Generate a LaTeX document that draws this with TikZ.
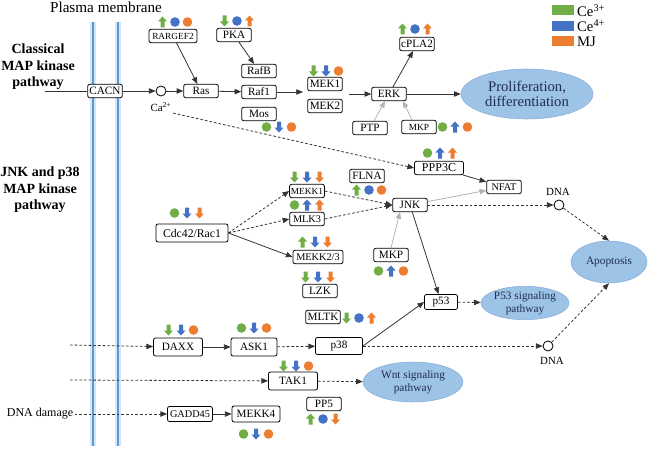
\documentclass[tikz,border=0pt]{standalone}
\usepackage{fontspec}
\setmainfont{Liberation Serif}
\usetikzlibrary{shapes.geometric,positioning,arrows.meta,calc}

\definecolor{cethree}{HTML}{70AD47}
\definecolor{cefour}{HTML}{4472C4}
\definecolor{mj}{HTML}{ED7D31}
\definecolor{membr}{HTML}{5B9BD5}
\definecolor{fatefill}{HTML}{9DC3E6}
\definecolor{fateline}{HTML}{86AEDC}
\definecolor{fatetext}{HTML}{1F2D4F}

% up / down / unchanged marks for one treatment
\tikzset{
  upmark/.pic={\fill[#1] (0,-5.5) -- (4.6,-0.5) -- (2,-0.5) -- (2,5.5) -- (-2,5.5) -- (-2,-0.5) -- (-4.6,-0.5) -- cycle;},
  downmark/.pic={\fill[#1] (0,5.5) -- (4.6,0.5) -- (2,0.5) -- (2,-5.5) -- (-2,-5.5) -- (-2,0.5) -- (-4.6,0.5) -- cycle;},
  dotmark/.pic={\fill[#1] (0,0) circle[radius=4.8];},
}

% three marks (Ce3+, Ce4+, MJ) centred on #1
\newcommand{\effects}[4]{%
  \pic at ($(#1)+(-12.5,0)$) {#2mark=cethree};
  \pic at (#1) {#3mark=cefour};
  \pic at ($(#1)+(12.5,0)$) {#4mark=mj};
}

\begin{document}
\begin{tikzpicture}[
  x=0.75pt, y=-0.75pt,
  prot/.style={rectangle, draw, rounded corners=1.5pt, fill=white, line width=0.6pt, minimum width=26pt, minimum height=10pt, inner sep=1pt, font=\fontsize{8.4}{10}\selectfont},
  small/.style={font=\fontsize{7}{8}\selectfont},
  mid/.style={font=\fontsize{7.7}{9}\selectfont},
  wd/.style={minimum width=0.75pt*#1},
  ht/.style={minimum height=0.75pt*#1},
  fate/.style={ellipse, draw=fateline, fill=fatefill, text=fatetext, align=center, inner sep=0pt, font=\fontsize{8.5}{10}\selectfont},
  port/.style={circle, draw, fill=white, line width=0.6pt, minimum size=7.5pt, inner sep=0pt},
  tag/.style={font=\fontsize{8.2}{9}\selectfont, inner sep=1pt},
  pathway/.style={font=\bfseries\fontsize{10.5}{12.4}\selectfont, align=center},
  keybox/.style={rectangle, minimum width=16.5pt, minimum height=7.5pt, inner sep=0pt},
  link/.style={line width=0.6pt, draw=black!80},
  arrow/.style={-{Triangle[length=5pt,width=4pt]}, line width=0.6pt, draw=black!80},
  dasharrow/.style={arrow, dash pattern=on 2pt off 1.5pt},
  greyarrow/.style={arrow, draw=black!30},
]
\useasboundingbox (0,0) rectangle (649,453);

% === membrane ===
\foreach \mx in {93,118} {
  \draw[line width=4pt, membr!25] (\mx,22) -- (\mx,446);
  \draw[line width=1.4pt, membr] (\mx,22) -- (\mx,446);
}
\node[font=\fontsize{11.4}{13}\selectfont] (pm) at (106,7) {Plasma membrane};
\node[pathway] (classical) at (38,67) {Classical\\MAP kinase\\pathway};
\node[pathway] (jnkpath) at (40,190) {JNK and p38\\MAP kinase\\pathway};

% === legend ===
\foreach \c/\t [count=\i] in {cethree/{Ce\textsuperscript{3+}}, cefour/{Ce\textsuperscript{4+}}, mj/MJ} {
  \node[keybox, fill=\c] (key\i) at (563,-5+15.5*\i) {};
  \node[right=0pt of key\i, inner sep=2pt, font=\fontsize{11}{12}\selectfont] (keytext\i) {\t};
}

% === classical MAP kinase ===
\node[prot] (cacn) at (105,91) {CACN};
\node[port] (ca) at (161,91) {};
\node[tag] (calab) at (161,107) {Ca\textsuperscript{2+}};
\node[prot] (ras) at (201,91) {Ras};
\node[prot, small, wd=48] (rargef2) at (173,36) {RARGEF2};
\node[prot] (pka) at (234,35) {PKA};
\node[prot] (rafb) at (259,71) {RafB};
\node[prot] (raf1) at (259,92) {Raf1};
\node[prot] (mos) at (259,114) {Mos};
\node[prot] (mek1) at (325,84) {MEK1};
\node[prot] (mek2) at (325,106) {MEK2};
\node[prot] (erk) at (389,94) {ERK};
\node[prot] (cpla2) at (417,44) {cPLA2};
\node[prot] (ptp) at (370,128) {PTP};
\node[prot, small] (mkp) at (419,127) {MKP};
\node[fate, minimum width=99pt, minimum height=37.5pt, font=\fontsize{11}{11.5}\selectfont] (prolif) at (527,94) {Proliferation,\\differentiation};

% === JNK and p38 ===
\node[prot, font=\fontsize{9}{10}\selectfont, wd=49] (ppp3c) at (439,168) {PPP3C};
\node[prot, mid] (nfat) at (504,187) {NFAT};
\node[prot] (flna) at (367,176) {FLNA};
\node[prot] (jnk) at (410,205) {JNK};
\node[port] (dna1) at (559,205) {};
\node[tag] (dna1lab) at (558,192) {DNA};
\node[fate, minimum width=57pt, minimum height=31.5pt] (apop) at (609,262) {Apoptosis};
\node[prot, font=\fontsize{8.8}{10}\selectfont, wd=72, ht=18] (cdc42) at (192,233) {Cdc42/Rac1};
\node[prot, small] (mekk1) at (307,191) {MEKK1};
\node[prot, mid] (mlk3) at (307,219) {MLK3};
\node[prot, mid, wd=50] (mekk23) at (318,257) {MEKK2/3};
\node[prot] (lzk) at (320,291) {LZK};
\node[prot] (mkp2) at (391,255) {MKP};
\node[prot, wd=33, ht=15] (p53) at (441,302) {p53};
\node[fate, minimum width=66pt, minimum height=24pt] (p53sig) at (525,303) {P53 signaling\\pathway};
\node[prot] (mltk) at (323,317) {MLTK};
\node[prot, wd=49, ht=18] (daxx) at (178,347) {DAXX};
\node[prot, wd=46, ht=18] (ask1) at (254,347) {ASK1};
\node[prot, wd=47, ht=17] (p38) at (339,346) {p38};
\node[port] (dna2) at (548,346) {};
\node[tag] (dna2lab) at (552,361) {DNA};
\node[prot, wd=49, ht=18] (tak1) at (293,381) {TAK1};
\node[fate, minimum width=75pt, minimum height=30pt] (wnt) at (413,382) {Wnt signaling\\pathway};
\node[font=\fontsize{9}{11}\selectfont, inner sep=1pt] (dnadmg) at (40,414) {DNA damage};
\node[prot, mid, wd=45, ht=15] (gadd45) at (190,414) {GADD45};
\node[prot, wd=48, ht=16] (mekk4) at (256,414) {MEKK4};
\node[prot] (pp5) at (324,404) {PP5};

% === treatment effects ===
\effects{175,22}{up}{dot}{dot}
\effects{237,21}{down}{dot}{up}
\effects{279,127}{dot}{down}{dot}
\effects{326,71}{down}{down}{dot}
\effects{415,29}{up}{dot}{up}
\effects{455,127}{dot}{up}{dot}
\effects{440,153}{dot}{up}{up}
\effects{369,190}{up}{dot}{dot}
\effects{307,177}{down}{down}{down}
\effects{307,205}{dot}{up}{up}
\effects{315,242}{up}{down}{down}
\effects{318,277}{down}{down}{down}
\effects{187,213}{dot}{down}{down}
\effects{391,271}{dot}{up}{dot}
\effects{359,318}{down}{dot}{up}
\effects{181,330}{down}{down}{dot}
\effects{254,328}{dot}{down}{dot}
\effects{296,366}{down}{down}{dot}
\effects{256,434}{dot}{down}{dot}
\effects{323,419}{up}{dot}{down}

% === connectors ===
\coordinate (cacnin) at (45,91);
\coordinate (mekin) at (303,92);
\coordinate (mekout) at (349,94);
\coordinate (daxxin) at (70,345);
\coordinate (takin) at (70,380);

\draw[link] (cacnin) -- (cacn);
\draw[arrow] (cacn) -- (ca);
\draw[arrow] (ca) -- (ras);
\draw[arrow] (rargef2) -- (ras);
\draw[arrow] (pka) -- (rafb);
\draw[arrow] (ras) -- (raf1);
\draw[arrow] (raf1) -- (mekin);
\draw[arrow] (mekout) -- (erk);
\draw[arrow] (erk) -- (cpla2);
\draw[arrow] (erk) -- (prolif);
\draw[greyarrow] (ptp) -- (erk);
\draw[greyarrow] ($(mkp.north)+(-7,0)$) -- ($(erk.south)+(14,0)$);

\draw[dasharrow] (calab.south east) -- (ppp3c.west);
\draw[arrow] (ppp3c) -- (nfat);
\draw[greyarrow] (jnk) -- (nfat);
\draw[dasharrow] (jnk) -- (dna1);
\draw[dasharrow] (dna1) -- (apop.north);
\draw[arrow] (jnk) -- (p53);
\draw[greyarrow] (mkp2.north) -- ($(jnk.south)+(-10,0)$);
\draw[dasharrow] (mekk1.east) -- (jnk.west);
\draw[dasharrow] (mlk3.east) -- (jnk.west);
\draw[dasharrow] (cdc42.east) -- (mekk1.west);
\draw[dasharrow] (cdc42.east) -- (mlk3.west);
\draw[arrow] (cdc42.east) -- (mekk23.west);
\draw[dasharrow] (p53) -- (p53sig);

\draw[dasharrow] (daxxin) -- (daxx);
\draw[arrow] (daxx) -- (ask1);
\draw[dasharrow] (ask1) -- (p38);
\draw[arrow] (p38.east) -- (p53.west);
\draw[dasharrow] (p38) -- (dna2);
\draw[dasharrow] (dna2) -- (apop.south);
\draw[dasharrow] (takin) -- (tak1);
\draw[dasharrow] (tak1) -- (wnt);
\draw[dasharrow] (dnadmg) -- (gadd45);
\draw[arrow] (gadd45) -- (mekk4);

\end{tikzpicture}
\end{document}
